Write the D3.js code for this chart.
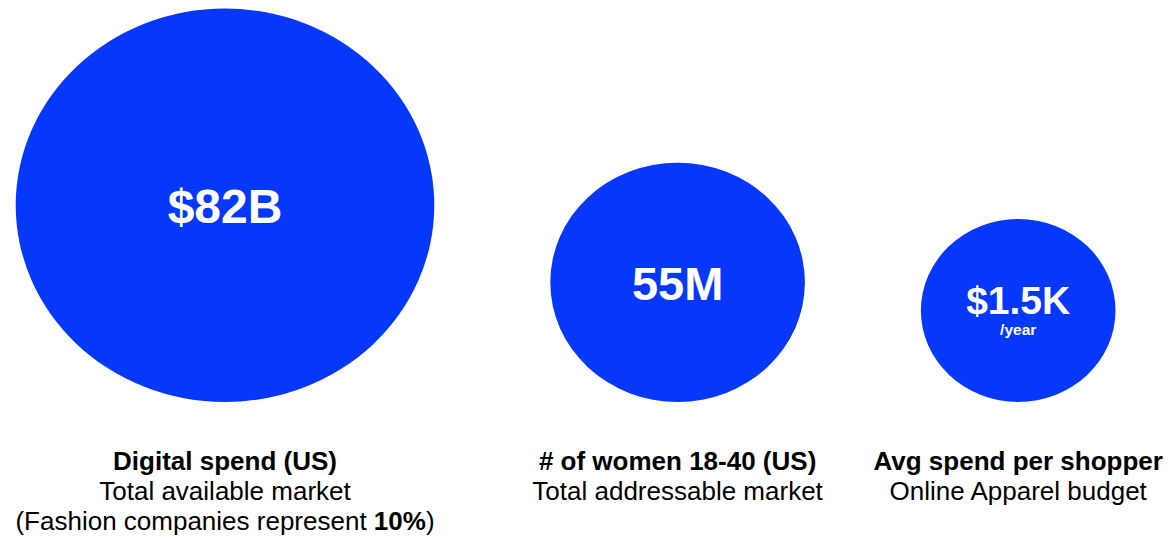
<!DOCTYPE html>
<html>
<head>
<meta charset="utf-8">
<script src="https://cdn.jsdelivr.net/npm/d3@7"></script>
<style>
  html, body { margin: 0; padding: 0; background: #ffffff; }
  svg { display: block; }
  text { font-family: "Liberation Sans", Arial, Helvetica, sans-serif; }
</style>
</head>
<body>
<svg id="chart" width="1176" height="538"></svg>
<script>
// Market sizing figures
const categories = ["Digital spend (US)", "# of women 18-40 (US)", "Avg spend per shopper"];
const values = [82e9, 55e6, 1500];
const valueLabels = ["$82B", "55M", "$1.5K"];
const valueUnits = ["", "", "/year"];
const subtitles = [
  ["Total available market", "(Fashion companies represent 10%)"],
  ["Total addressable market"],
  ["Online Apparel budget"]
];
const highlights = ["10%", "", ""];

const width = 1176, height = 538;
const svg = d3.select("#chart");

// Bubble sizes step down by rank; bubbles sit on a common baseline
const radius = d3.scaleOrdinal().domain(categories).range([209.3, 127.3, 97.3]);
const squash = 0.94;       // vertical flattening of the bubbles
const baseY = 402;         // shared bottom edge
const gap = 116;           // horizontal space between bubbles
const startX = 15.7;

const nodes = [];
let cursor = startX;
categories.forEach((c, i) => {
  const r = radius(c);
  nodes.push({
    category: c,
    value: values[i],
    label: valueLabels[i],
    unit: valueUnits[i],
    subs: subtitles[i],
    highlight: highlights[i],
    cx: cursor + r,
    rx: r,
    ry: r * squash,
    cy: baseY - r * squash
  });
  cursor += 2 * r + gap;
});

const blue = "#0538fa";

const g = svg.append("g");

const bubble = g.selectAll("g.bubble")
  .data(nodes)
  .join("g")
  .attr("class", "bubble");

bubble.append("ellipse")
  .attr("cx", d => d.cx)
  .attr("cy", d => d.cy)
  .attr("rx", d => d.rx)
  .attr("ry", d => d.ry)
  .attr("fill", blue);

// Value inside the bubble; font scales with bubble size
const valueFont = d3.scaleOrdinal().domain(categories).range([48, 47, 39]);

bubble.append("text")
  .attr("x", d => d.cx)
  .attr("y", d => d.unit ? d.cy + 3 : d.cy + 18)
  .attr("text-anchor", "middle")
  .attr("fill", "#ffffff")
  .attr("font-weight", "bold")
  .attr("font-size", d => valueFont(d.category))
  .text(d => d.label);

bubble.filter(d => d.unit)
  .append("text")
  .attr("x", d => d.cx)
  .attr("y", d => d.cy + 24)
  .attr("text-anchor", "middle")
  .attr("fill", "#ffffff")
  .attr("font-weight", "bold")
  .attr("font-size", 15.5)
  .text(d => d.unit);

// Captions under each bubble
const lineGap = 30;
const captionTop = 470;

bubble.append("text")
  .attr("x", d => d.cx)
  .attr("y", captionTop)
  .attr("text-anchor", "middle")
  .attr("fill", "#000000")
  .attr("font-weight", "bold")
  .attr("font-size", 26)
  .text(d => d.category);

bubble.each(function(d) {
  const sel = d3.select(this);
  d.subs.forEach((line, j) => {
    const t = sel.append("text")
      .attr("x", d.cx)
      .attr("y", captionTop + lineGap * (j + 1))
      .attr("text-anchor", "middle")
      .attr("fill", "#000000")
      .attr("font-size", 26);
    if (d.highlight && line.includes(d.highlight)) {
      const [before, after] = line.split(d.highlight);
      t.append("tspan").text(before);
      t.append("tspan").attr("font-weight", "bold").text(d.highlight);
      t.append("tspan").text(after);
    } else {
      t.text(line);
    }
  });
});
</script>
</body>
</html>
